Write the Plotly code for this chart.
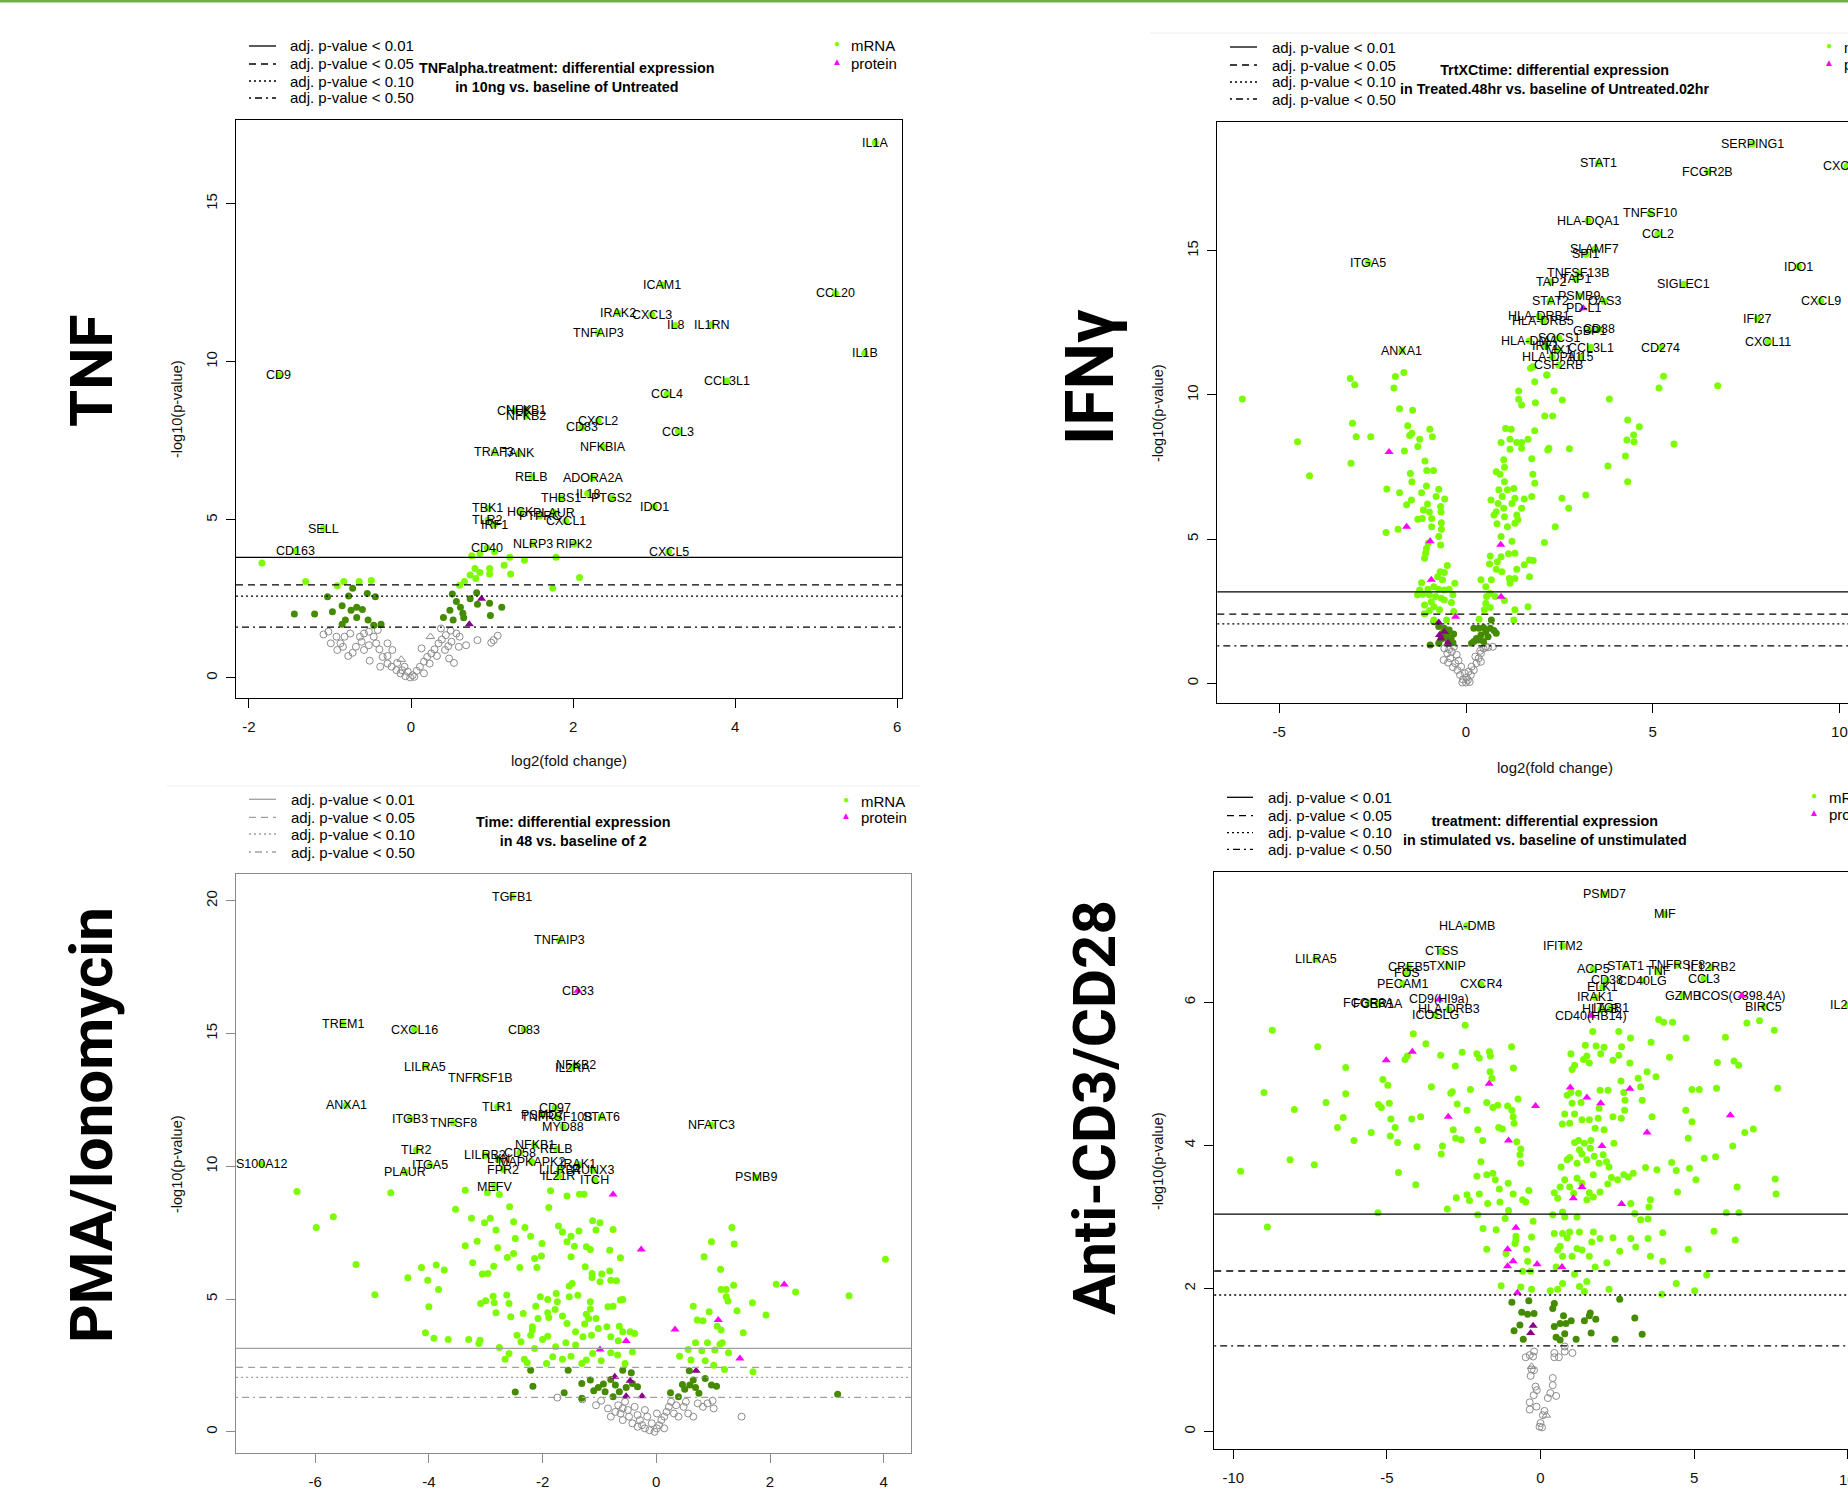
import plotly.graph_objects as go

W, H = 1848, 1507
FONT = "Liberation Sans, Arial, sans-serif"
SIG, MID, NS = "#7CFC00", "#458B00", "#8C8C8C"
PSIG, PMID = "#FF00FF", "#8B008B"

legend_labels = ["adj. p-value < 0.01", "adj. p-value < 0.05", "adj. p-value < 0.10", "adj. p-value < 0.50"]
row_labels = ["TNF", "IFNγ", "PMA/Ionomycin", "Anti-CD3/CD28"]

# ======================= TNF =======================
tnf_title = "TNFalpha.treatment: differential expression<br>in 10ng vs. baseline of Untreated"
tnf_xticks = [-2, 0, 2, 4, 6]
tnf_yticks = [0, 5, 10, 15]
tnf_thresholds = [3.81, 2.94, 2.585, 1.60]
tnf_labeled = [("IL1A", 5.73, 16.93), ("ICAM1", 3.10, 12.43), ("CCL20", 5.24, 12.16), ("IRAK2", 2.55, 11.55),
               ("CXCL3", 2.97, 11.49), ("IL8", 3.26, 11.15), ("IL1RN", 3.71, 11.17), ("TNFAIP3", 2.31, 10.92),
               ("IL1B", 5.60, 10.27), ("CD9", -1.63, 9.57), ("CCL3L1", 3.90, 9.39), ("CCL4", 3.16, 8.97),
               ("CHUK", 1.28, 8.45), ("NFKB1", 1.42, 8.47), ("NFKB2", 1.42, 8.28), ("CXCL2", 2.31, 8.13),
               ("CD83", 2.11, 7.92), ("CCL3", 3.30, 7.79), ("NFKBIA", 2.37, 7.31), ("TRAF3", 1.03, 7.13),
               ("TANK", 1.33, 7.10), ("RELB", 1.49, 6.36), ("ADORA2A", 2.24, 6.33), ("IL18", 2.18, 5.83),
               ("THBS1", 1.85, 5.68), ("PTGS2", 2.48, 5.68), ("IDO1", 3.00, 5.41), ("TBK1", 0.95, 5.36),
               ("HCK", 1.35, 5.25), ("PLAUR", 1.76, 5.23), ("PTPRC", 1.59, 5.12), ("CXCL1", 1.91, 4.95),
               ("TLR2", 0.95, 4.99), ("IRF1", 1.03, 4.85), ("SELL", -1.08, 4.72), ("NLRP3", 1.50, 4.23),
               ("RIPK2", 2.01, 4.23), ("CD40", 0.94, 4.11), ("CD163", -1.43, 4.01), ("CXCL5", 3.18, 3.99)]
tnf_labeled_prot = []
tnf_sig = [(-1.84, 3.63), (-1.30, 3.05), (-0.83, 3.05), (-0.64, 3.05), (-0.49, 3.08), (-0.91, 2.91), (0.75, 3.86),
           (0.85, 3.93), (1.03, 3.99), (1.22, 3.81), (1.40, 3.72), (1.79, 3.81), (0.73, 3.25), (0.79, 3.46),
           (0.85, 3.33), (0.80, 3.14), (0.97, 3.46), (0.97, 3.28), (1.15, 3.56), (1.23, 3.28), (0.66, 3.05),
           (0.60, 2.93), (2.08, 3.17), (1.75, 2.83)]
tnf_mid = [(-1.03, 2.56), (-1.44, 2.02), (-1.19, 2.02), (-0.97, 2.09), (-0.85, 2.28), (-0.77, 2.59), (-0.72, 2.83),
           (-0.74, 2.14), (-0.67, 2.23), (-0.81, 1.83), (-0.67, 1.91), (-0.60, 2.16), (-0.54, 2.67), (-0.44, 2.56),
           (-0.53, 1.83), (-0.37, 1.69), (-0.85, 1.69), (-0.46, 1.66), (0.51, 2.65), (0.48, 2.14), (0.40, 1.91),
           (0.52, 1.83), (0.61, 2.23), (0.64, 2.04), (0.65, 1.90), (0.56, 2.41), (0.82, 2.33), (0.97, 2.36),
           (1.12, 2.23), (0.98, 1.97), (0.73, 2.50), (0.81, 2.69)]
tnf_ns = [(-1.08, 1.37), (-1.02, 1.46), (-0.92, 1.30), (-0.99, 1.09), (-0.87, 1.09), (-0.84, 0.98), (-0.91, 0.88),
          (-0.775, 0.69), (-0.72, 0.79), (-0.68, 0.98), (-0.63, 1.30), (-0.58, 1.40), (-0.52, 1.46), (-0.46, 1.30),
          (-0.43, 1.09), (-0.39, 0.90), (-0.35, 0.66), (-0.29, 0.45), (-0.24, 0.35), (-0.18, 0.24), (-0.13, 0.14),
          (-0.07, 0.05), (-0.01, 0.01), (0.02, 0.08), (0.07, 0.22), (0.11, 0.35), (0.16, 0.51), (0.20, 0.66),
          (0.25, 0.77), (0.29, 0.90), (0.34, 1.09), (0.38, 1.21), (0.43, 1.35), (0.49, 1.49), (0.56, 1.40),
          (0.59, 0.98), (0.53, 0.47), (0.47, 0.61), (0.37, 1.56), (0.46, 1.00), (0.68, 1.03), (0.82, 1.19),
          (0.99, 1.11), (1.07, 1.33), (1.02, 1.19), (0.13, 0.93), (-0.51, 0.54), (-0.38, 0.35), (-0.29, 0.69),
          (-0.23, 0.88), (-0.58, 0.88), (-0.52, 1.03), (-0.08, 0.35), (-0.11, 0.24), (-0.17, 0.47), (-0.04, 0.19),
          (0.04, 0.03), (0.16, 0.14), (0.23, 0.45), (0.32, 0.69), (0.42, 0.88), (0.50, 1.14), (0.60, 1.30),
          (-0.41, 1.51), (-0.29, 1.09), (-0.61, 1.14), (-0.75, 1.40), (-0.82, 1.30)]
tnf_prot_sig = []
tnf_prot_mid = [(0.87, 2.50), (0.72, 1.69)]
tnf_prot_ns = [(0.24, 1.30), (-0.12, 0.58)]

# ======================= IFN-gamma =======================
ifn_title = "TrtXCtime: differential expression<br>in Treated.48hr vs. baseline of Untreated.02hr"
ifn_xticks = [-5, 0, 5, 10]
ifn_yticks = [0, 5, 10, 15]
ifn_thresholds = [3.17, 2.40, 2.06, 1.30]
ifn_labeled = [("SERPING1", 7.66, 18.70), ("STAT1", 3.55, 18.03), ("FCGR2B", 6.48, 17.74), ("CXCL10", 10.2, 17.93),
               ("TNFSF10", 4.93, 16.29), ("HLA-DQA1", 3.27, 16.04), ("CCL2", 5.14, 15.58), ("SLAMF7", 3.45, 15.05),
               ("SPI1", 3.21, 14.88), ("ITGA5", -2.62, 14.59), ("IDO1", 8.90, 14.45), ("TNFSF13B", 3.01, 14.21),
               ("TAP1", 2.94, 14.01), ("TAP2", 2.27, 13.92), ("SIGLEC1", 5.83, 13.84), ("PSMB9", 3.03, 13.43),
               ("STAT2", 2.25, 13.25), ("OAS3", 3.70, 13.25), ("CXCL9", 9.50, 13.25), ("IFI27", 7.81, 12.63),
               ("HLA-DRB1", 1.96, 12.73), ("HLA-DRB5", 2.07, 12.56), ("GBP1", 3.30, 12.23), ("CD38", 3.55, 12.28),
               ("SOCS1", 2.49, 11.96), ("HLA-DMA", 1.69, 11.87), ("CXCL11", 8.10, 11.84), ("IRF1", 2.14, 11.69),
               ("CCL3L1", 3.34, 11.64), ("CD274", 5.22, 11.64), ("MX1", 2.49, 11.55), ("ANXA1", -1.72, 11.53),
               ("HLA-DPA1", 2.31, 11.32), ("IL15", 3.07, 11.30), ("CSF2RB", 2.48, 11.03)]
ifn_labeled_prot = [("PD-L1", 3.14, 13.00)]
ifn_sig = [(-5.99, 9.86), (-3.10, 10.57), (-2.98, 10.35), (-1.89, 10.64), (-1.665, 10.78), (-1.93, 10.24),
           (-1.78, 9.52), (-1.43, 9.47), (1.41, 10.14), (1.41, 9.85), (1.49, 9.65), (1.86, 9.73), (1.84, 10.46),
           (2.17, 10.69), (2.36, 10.14), (2.58, 9.82), (1.73, 10.92), (1.79, 10.98), (2.11, 9.27), (2.32, 9.27),
           (3.84, 9.86), (4.33, 9.13), (5.17, 10.24), (5.29, 10.65), (6.74, 10.32), (2.16, 10.69),
           (-4.51, 8.38), (-4.19, 7.20), (-3.04, 9.02), (-2.94, 8.55), (-3.08, 7.63), (-2.55, 8.55), (-2.12, 6.74),
           (-2.14, 5.23), (-1.82, 5.34), (-1.65, 8.06), (-1.56, 8.93), (-1.45, 8.67), (-1.51, 8.59), (-1.24, 8.46),
           (-1.29, 8.21), (-0.97, 8.81), (-0.90, 8.55), (-1.10, 7.71), (-1.05, 7.38), (-0.87, 7.38), (-1.49, 7.28),
           (-1.45, 6.99), (-1.78, 6.61), (-1.46, 6.36), (-1.59, 6.19), (-1.19, 6.61), (-1.06, 6.84), (-0.73, 6.73),
           (-0.80, 6.48), (-0.57, 6.39), (-1.03, 6.22), (-0.98, 5.94), (-0.68, 6.13), (-0.67, 5.94), (-1.14, 6.01),
           (-1.29, 5.69), (-1.17, 5.72), (-0.92, 5.72), (-0.66, 5.57), (-0.66, 5.34), (-0.92, 5.43), (-0.73, 5.09),
           (-0.68, 4.80), (-1.06, 4.68), (-1.08, 4.51), (-1.01, 4.86), (-1.11, 4.34), (-0.50, 4.09), (-0.69, 3.87),
           (-0.58, 3.84), (-0.76, 3.70), (-0.63, 3.59), (-0.30, 3.47), (-1.19, 3.49), (-1.24, 3.24), (-1.30, 3.07),
           (-1.02, 3.26), (-0.86, 3.35), (-0.73, 3.26), (-0.58, 3.24), (-0.45, 3.26), (-0.35, 3.07), (-1.16, 3.09),
           (-0.98, 3.07), (-0.81, 3.01), (-0.66, 2.95), (-0.93, 2.83), (-0.58, 2.89), (-0.39, 2.80), (-1.11, 2.72),
           (-0.86, 2.66), (-0.98, 2.52), (-0.71, 2.55), (-0.33, 2.49), (-1.11, 2.41), (-0.86, 2.20), (-0.52, 2.20),
           (1.06, 8.84), (1.21, 8.81), (1.18, 8.46), (1.36, 8.35), (1.49, 8.35), (0.94, 8.35), (1.18, 8.12),
           (1.49, 8.15), (1.66, 8.46), (1.84, 8.76), (2.22, 8.15), (2.19, 8.09), (2.77, 8.13), (1.01, 7.75),
           (1.03, 7.49), (1.76, 7.79), (0.81, 7.34), (0.91, 7.25), (1.03, 6.99), (1.28, 6.76), (1.11, 6.71),
           (0.88, 6.71), (0.97, 6.48), (0.67, 6.36), (0.86, 6.24), (1.23, 6.24), (1.31, 6.42), (1.56, 6.39),
           (1.49, 6.07), (1.79, 7.25), (1.84, 6.94), (1.76, 6.48), (1.01, 6.07), (0.81, 5.95), (0.75, 5.84),
           (1.03, 5.78), (1.36, 5.84), (1.39, 5.67), (1.31, 5.55), (0.83, 5.53), (1.11, 5.43), (0.94, 5.09),
           (1.23, 4.93), (1.14, 4.49), (1.31, 4.51), (0.94, 4.39), (0.84, 4.22), (0.65, 4.42), (0.63, 4.14),
           (0.81, 3.96), (0.96, 3.87), (1.16, 3.64), (1.36, 3.96), (1.56, 4.11), (1.70, 4.28), (1.80, 4.26),
           (1.70, 3.70), (1.31, 3.64), (1.18, 3.47), (0.68, 3.59), (0.40, 3.59), (0.53, 3.35), (0.65, 3.12),
           (0.78, 3.01), (0.55, 3.01), (1.03, 2.87), (0.53, 2.78), (0.65, 2.63), (0.49, 2.55), (1.31, 2.55),
           (1.66, 2.66), (1.28, 2.20), (0.35, 2.22),
           (4.64, 8.90), (4.49, 8.61), (4.50, 8.38), (4.31, 8.44), (5.57, 8.30), (4.27, 7.88), (3.80, 7.54),
           (4.33, 6.99), (3.21, 6.53), (2.57, 6.42), (2.75, 6.07), (2.39, 5.43), (2.10, 4.88)]
ifn_mid = [(-0.86, 2.14), (-0.73, 1.97), (-0.58, 1.91), (-0.45, 1.85), (-0.63, 1.74), (-0.53, 1.60), (-0.40, 1.56),
           (-0.33, 1.71), (-0.67, 1.53), (-0.48, 1.45), (-0.96, 1.33), (-0.35, 1.41), (-0.50, 1.74), (-0.73, 1.39),
           (0.21, 1.91), (0.34, 1.91), (0.47, 1.94), (0.65, 1.91), (0.75, 1.83), (0.81, 1.74), (0.53, 1.79),
           (0.40, 1.68), (0.28, 1.56), (0.21, 1.45), (0.59, 1.62), (0.47, 1.45), (0.68, 2.20), (0.34, 1.50),
           (0.15, 1.39)]
ifn_ns = [(-0.58, 1.21), (-0.50, 1.04), (-0.42, 0.87), (-0.60, 0.81), (-0.29, 0.70), (-0.23, 0.46), (-0.16, 0.29),
          (-0.08, 0.14), (0.00, 0.03), (0.05, 0.12), (0.13, 0.29), (0.21, 0.46), (0.28, 0.70), (0.34, 0.87),
          (0.40, 1.04), (0.47, 1.21), (0.72, 1.27), (0.53, 1.27), (-0.38, 1.10), (-0.25, 0.99), (-0.13, 0.58),
          (0.15, 0.58), (-0.03, 0.35), (0.07, 0.41), (-0.35, 0.56), (-0.48, 0.72), (0.40, 0.75), (0.25, 0.93),
          (0.38, 1.13), (0.59, 1.25), (-0.45, 1.18), (-0.32, 1.27), (-0.20, 0.79), (0.02, 0.20), (-0.10, 0.03),
          (0.10, 0.05)]
ifn_prot_sig = [(-2.06, 8.02), (-1.59, 5.43), (-0.96, 4.93), (-0.93, 3.59), (0.93, 4.81), (0.94, 3.00), (-0.28, 2.31)]
ifn_prot_mid = [(-0.73, 2.11), (-0.58, 1.79), (-0.71, 1.68), (-0.67, 1.56), (-0.48, 1.41)]
ifn_prot_ns = []

# ======================= PMA / Ionomycin =======================
pma_title = "Time: differential expression<br>in 48 vs. baseline of 2"
pma_xticks = [-6, -4, -2, 0, 2, 4]
pma_yticks = [0, 5, 10, 15, 20]
pma_thresholds = [3.14, 2.425, 2.05, 1.295]
pma_labeled = [("TGFB1", -2.53, 20.15), ("TNFAIP3", -1.70, 18.52), ("TREM1", -5.51, 15.38), ("CXCL16", -4.25, 15.15),
               ("CD83", -2.32, 15.15), ("LILRA5", -4.06, 13.75), ("NFKB2", -1.42, 13.81), ("IL2RA", -1.48, 13.72),
               ("TNFRSF1B", -3.09, 13.34), ("ANXA1", -5.45, 12.30), ("TLR1", -2.79, 12.24), ("CD97", -1.78, 12.21),
               ("ITGB3", -4.33, 11.79), ("TNFSF8", -3.57, 11.64), ("PSMD7", -2.00, 11.93), ("TNFRSF10B", -1.74, 11.86),
               ("STAT6", -0.97, 11.86), ("MYD88", -1.64, 11.49), ("NFATC3", 0.97, 11.55), ("NFKB1", -2.14, 10.80),
               ("RELB", -1.75, 10.64), ("CD58", -2.40, 10.51), ("LILRB2", -3.01, 10.42), ("LYN", -2.78, 10.26),
               ("MAPKAPK2", -2.19, 10.17), ("TLR2", -4.22, 10.61), ("ITGA5", -3.98, 10.04), ("PLAUR", -4.42, 9.79),
               ("FPR2", -2.69, 9.88), ("IRAK1", -1.37, 10.07), ("RUNX3", -1.11, 9.85), ("LILRB4", -1.70, 9.88),
               ("IL21R", -1.72, 9.63), ("ITCH", -1.08, 9.48), ("MEFV", -2.84, 9.23), ("PSMB9", 1.76, 9.58),
               ("S100A12", -6.94, 10.08)]
pma_labeled_prot = [("CD33", -1.38, 16.61)]
pma_sig = [(-6.32, 9.05), (-5.68, 8.10), (-5.98, 7.70), (-4.67, 9.00), (-3.36, 9.10), (-2.97, 9.00), (-2.76, 8.94),
           (-2.85, 9.29), (-3.53, 8.38), (-3.25, 8.04), (-3.02, 7.87), (-2.92, 8.04), (-2.82, 7.60), (-2.58, 8.48),
           (-2.51, 7.91), (-2.31, 7.70), (-2.48, 7.28), (-2.21, 7.37), (-2.01, 7.09), (-3.15, 7.18), (-3.36, 7.01),
           (-2.79, 6.93), (-2.62, 6.57), (-2.51, 6.72), (-2.14, 6.53), (-2.02, 6.62), (-3.23, 6.37), (-2.86, 6.24),
           (-3.06, 5.94), (-2.96, 5.96), (-2.40, 6.19), (-2.10, 6.19), (-5.28, 6.30), (-4.13, 6.19), (-3.87, 6.28),
           (-3.73, 6.09), (-4.37, 5.80), (-4.02, 5.71), (-3.83, 5.36), (-4.95, 5.16), (-4.00, 4.71), (-4.06, 3.73),
           (-3.91, 3.52), (-3.66, 3.48), (-3.30, 3.48), (-3.10, 3.45), (-3.12, 3.33), (-2.76, 3.18), (-2.59, 2.95),
           (-2.66, 2.73), (-2.32, 2.73), (-2.27, 2.60), (-2.45, 3.64), (-2.38, 3.39), (-2.18, 3.83), (-2.21, 3.64),
           (-2.00, 3.48), (-1.91, 3.60), (-2.14, 3.14), (-1.93, 2.57), (-1.82, 2.83), (-1.65, 2.73), (-1.50, 2.85),
           (-1.31, 2.57), (-1.23, 2.70), (-1.12, 2.95), (-0.97, 2.68), (-0.80, 2.98), (-0.68, 2.89), (-0.55, 2.57),
           (-0.42, 3.01), (-0.38, 3.70), (-0.46, 3.77), (-0.59, 3.77), (-0.67, 3.43), (-0.80, 3.58), (-0.65, 3.98),
           (-0.87, 3.96), (-1.02, 3.89), (-1.14, 3.64), (-1.29, 3.58), (-1.42, 3.77), (-1.59, 3.35), (-1.77, 3.20),
           (-1.42, 3.27), (-1.57, 4.08), (-1.65, 4.36), (-1.78, 4.61), (-1.91, 4.48), (-1.89, 4.31), (-2.08, 4.27),
           (-2.18, 3.96), (-2.34, 4.46), (-2.56, 4.33), (-2.59, 4.83), (-2.63, 5.15), (-2.82, 4.48), (-2.85, 4.86),
           (-3.09, 4.83), (-3.00, 4.94), (-2.87, 5.11), (-2.12, 4.73), (-2.04, 5.09), (-1.91, 4.98), (-1.74, 4.90),
           (-1.76, 5.21), (-1.53, 5.09), (-1.38, 5.14), (-1.16, 4.90), (-1.16, 4.63), (-1.23, 4.43), (-1.19, 4.27),
           (-1.26, 4.06), (-1.06, 4.27), (-0.85, 4.71), (-0.76, 4.73), (-0.63, 4.96), (-0.59, 4.98), (-0.99, 5.65),
           (-0.82, 6.06), (-0.80, 5.71), (-0.70, 5.69), (-0.96, 5.94), (-1.13, 5.96), (-1.13, 5.81), (-1.25, 6.22),
           (-1.48, 5.59), (-1.53, 5.49), (-1.50, 6.59), (-1.36, 7.56), (-1.50, 7.37), (-1.44, 6.99), (-1.23, 6.97),
           (-1.16, 6.87), (-1.72, 7.75), (-1.65, 7.53), (-1.57, 7.16), (-1.06, 7.60), (-0.99, 7.87), (-1.12, 7.95),
           (-0.76, 7.62), (-0.82, 6.84), (-0.63, 6.56), (-1.89, 8.45), (-1.86, 9.08), (-1.57, 8.88), (-1.35, 8.95),
           (-1.27, 8.95), (0.65, 4.73), (0.72, 4.21), (0.82, 4.18), (0.93, 4.52), (1.07, 3.98), (1.14, 3.83),
           (1.16, 3.35), (1.12, 3.30), (1.03, 3.08), (0.90, 3.35), (0.80, 3.05), (0.69, 3.35), (0.56, 3.10),
           (0.41, 2.85), (0.61, 2.70), (0.86, 2.68), (1.01, 2.51), (1.27, 2.98), (1.20, 2.35), (1.70, 2.26),
           (1.23, 5.09), (1.14, 5.36), (1.26, 4.93), (1.42, 4.56), (1.36, 5.52), (1.23, 5.36), (1.69, 4.86),
           (1.93, 4.40), (1.53, 3.73), (1.13, 6.12), (0.84, 6.59), (0.97, 7.16), (1.33, 7.70), (1.37, 7.07),
           (2.11, 5.56), (2.45, 5.27), (3.39, 5.12), (4.03, 6.50)]
pma_mid = [(-2.48, 1.50), (-2.17, 1.72), (-2.21, 2.32), (-1.62, 1.47), (-1.55, 2.32), (-1.31, 1.82), (-1.16, 1.95),
           (-1.02, 1.67), (-1.10, 1.55), (-0.93, 1.80), (-0.90, 1.51), (-0.80, 1.97), (-0.72, 1.76), (-0.65, 1.51),
           (-0.76, 1.32), (-0.53, 1.67), (-0.59, 2.32), (-0.44, 2.22), (-0.42, 1.82), (-0.33, 1.70), (-1.31, 1.26),
           (0.25, 1.47), (0.46, 1.78), (0.50, 1.60), (0.58, 2.30), (0.65, 1.95), (0.69, 1.67), (0.75, 1.45),
           (0.86, 2.01), (0.97, 1.76), (1.06, 1.72), (0.39, 1.32), (3.19, 1.41), (0.59, 1.76)]
pma_ns = [(-1.74, 1.29), (-1.30, 1.22), (-1.06, 1.00), (-0.97, 1.17), (-0.85, 0.88), (-0.80, 0.57), (-0.67, 1.00),
          (-0.63, 0.69), (-0.59, 0.44), (-0.55, 1.13), (-0.50, 0.82), (-0.48, 0.57), (-0.42, 0.32), (-0.38, 0.94),
          (-0.33, 0.63), (-0.29, 0.44), (-0.25, 0.25), (-0.20, 0.13), (-0.16, 0.57), (-0.12, 0.06), (-0.08, 0.32),
          (-0.03, 0.00), (0.01, 0.13), (0.05, 0.25), (0.09, 0.44), (0.14, 0.57), (0.18, 0.75), (0.22, 0.94),
          (0.26, 1.13), (0.31, 0.69), (0.35, 1.00), (0.39, 0.57), (0.48, 0.94), (0.52, 1.13), (0.56, 0.69),
          (0.65, 0.57), (0.73, 1.07), (0.82, 0.94), (0.90, 1.07), (0.99, 1.17), (1.01, 0.88), (1.50, 0.57),
          (-0.20, 0.82), (0.01, 0.69), (-0.33, 0.19), (-0.72, 0.75), (-0.59, 0.88), (0.14, 0.13)]
pma_prot_sig = [(-0.76, 8.94), (-0.265, 6.87), (0.33, 3.85), (-0.53, 3.42), (-0.99, 3.10), (1.09, 4.21), (2.25, 5.55),
                (1.47, 2.76)]
pma_prot_mid = [(0.70, 2.30), (-0.73, 2.07), (-0.46, 1.92), (-0.25, 1.34), (-0.53, 1.34)]
pma_prot_ns = []

# ======================= Anti-CD3/CD28 =======================
cd3_title = "treatment: differential expression<br>in stimulated vs. baseline of unstimulated"
cd3_xticks = [-10, -5, 0, 5, 10]
cd3_yticks = [0, 2, 4, 6]
cd3_thresholds = [3.04, 2.245, 1.91, 1.20]
cd3_labeled = [("PSMD7", 2.07, 7.51), ("MIF", 4.04, 7.23), ("HLA-DMB", -2.40, 7.07), ("IFITM2", 0.73, 6.79),
               ("LILRA5", -7.31, 6.60), ("CTSS", -3.22, 6.71), ("CREB5", -4.29, 6.49), ("FOS", -4.36, 6.41),
               ("TXNIP", -3.02, 6.51), ("PECAM1", -4.48, 6.26), ("CXCR4", -1.94, 6.25), ("TNFRSF8", 4.45, 6.52),
               ("IL12RB2", 5.56, 6.49), ("CCL3", 5.32, 6.33), ("ACP5", 1.72, 6.46), ("STAT1", 2.77, 6.51),
               ("TNF", 3.83, 6.43), ("CD38", 2.15, 6.31), ("CD40LG", 3.33, 6.30), ("ELK1", 2.03, 6.21),
               ("IRAK1", 1.78, 6.07), ("HLA-B", 1.97, 5.90), ("ITGB1", 2.28, 5.92), ("GZMB", 4.63, 6.09),
               ("BIRC5", 7.27, 5.94), ("IL2RA", 10.0, 5.96), ("FCGR3A", -5.60, 5.99), ("FCER1A", -5.29, 5.98),
               ("HLA-DRB3", -2.99, 5.90), ("ICOSLG", -3.43, 5.82)]
cd3_labeled_prot = [("CD9(HI9a)", -3.30, 6.04), ("ICOS(C398.4A)", 6.56, 6.09), ("CD40(HB14)", 1.66, 5.81)]
cd3_sig = [(-8.73, 5.61), (-7.25, 5.38), (-9.00, 4.74), (-8.01, 4.50), (-6.98, 4.60), (-6.61, 4.25), (-6.34, 5.09),
           (-6.34, 4.72), (-6.42, 4.39), (-6.07, 4.07), (-5.51, 4.18), (-5.27, 4.57), (-5.18, 4.53), (-4.92, 4.59),
           (-4.87, 4.37), (-4.89, 4.13), (-4.73, 4.25), (-5.13, 4.92), (-4.97, 4.84), (-4.65, 4.04), (-4.41, 5.20),
           (-4.33, 5.25), (-4.14, 5.56), (-3.73, 5.42), (-4.02, 3.98), (-3.90, 4.40), (-4.19, 4.37), (-3.55, 4.82),
           (-3.25, 5.26), (-3.19, 3.99), (-2.87, 4.75), (-2.92, 4.73), (-2.84, 4.22), (-2.77, 5.11), (-2.71, 4.58),
           (-2.76, 4.10), (-2.55, 5.30), (-2.58, 4.08), (-2.39, 4.49), (-2.45, 5.68), (-2.28, 4.78), (-2.07, 5.28),
           (-1.99, 5.22), (-2.04, 4.22), (-1.88, 4.07), (-1.75, 4.60), (-1.66, 5.31), (-1.63, 5.25), (-1.64, 5.03),
           (-1.58, 4.94), (-1.55, 4.53), (-1.39, 4.56), (-1.36, 4.25), (-1.24, 4.23), (-1.07, 4.55), (-0.94, 5.38),
           (-0.88, 5.08), (-0.93, 4.49), (-0.89, 4.40), (-0.86, 4.31), (-0.77, 4.05), (-0.73, 4.65), (-0.64, 3.95),
           (0.99, 5.28), (1.11, 5.12), (1.03, 5.06), (1.40, 5.20), (1.51, 5.25), (1.59, 5.15), (1.46, 5.40),
           (1.81, 5.39), (2.07, 5.37), (1.96, 5.28), (1.70, 5.59), (2.55, 5.59), (2.55, 5.26), (2.36, 5.19),
           (2.64, 5.38), (2.93, 5.50), (2.91, 5.15), (3.18, 4.94), (3.47, 5.03), (3.60, 5.44), (3.76, 4.96),
           (3.85, 5.76), (4.01, 5.72), (4.30, 5.72), (4.20, 5.23), (4.74, 5.50), (4.93, 4.78), (5.17, 4.78),
           (5.73, 4.80), (6.02, 5.51), (5.76, 5.16), (6.30, 5.18), (6.45, 5.12), (6.72, 5.71), (7.13, 5.74),
           (7.61, 5.61), (7.72, 4.80), (4.73, 4.49), (4.93, 4.33), (4.81, 4.10), (5.33, 3.82), (5.70, 3.84),
           (6.26, 3.99), (6.65, 4.18), (6.93, 4.23), (4.27, 3.76), (3.42, 3.69), (1.94, 4.77), (2.20, 4.77),
           (2.62, 4.90), (2.71, 4.74), (2.75, 4.63), (3.26, 4.82), (3.31, 4.63), (3.63, 4.40), (2.36, 4.40),
           (2.74, 4.49), (2.63, 4.38), (2.07, 4.22), (1.78, 4.24), (1.64, 4.07), (1.43, 4.03), (1.24, 4.07),
           (1.11, 4.04), (0.95, 3.83), (1.27, 3.94), (1.62, 3.96), (1.75, 3.85), (2.04, 3.87), (2.15, 3.77),
           (2.39, 4.03), (2.23, 3.70), (0.67, 3.70), (0.87, 3.80), (0.79, 4.44), (0.71, 4.30), (0.95, 4.31),
           (1.11, 4.44), (1.35, 4.36), (1.59, 4.36), (1.88, 4.38), (1.91, 4.52), (1.32, 4.60), (1.24, 4.73),
           (0.99, 4.74), (0.87, 4.70), (1.03, 4.59),
           (-9.76, 3.64), (-8.15, 3.80), (-7.36, 3.73), (-8.89, 2.86), (-5.29, 3.06), (-4.62, 3.62), (-4.06, 3.45),
           (-3.23, 3.88), (-3.03, 3.11), (-2.74, 3.27), (-2.39, 3.31), (-2.31, 3.23), (-2.07, 3.57), (-1.99, 3.32),
           (-1.94, 3.77), (-2.04, 3.03), (-1.87, 2.84), (-1.75, 2.55), (-1.72, 3.19), (-1.75, 3.59), (-1.55, 3.61),
           (-1.47, 3.52), (-1.34, 3.39), (-1.32, 3.21), (-1.15, 2.98), (-1.44, 2.82), (-1.12, 2.49), (-1.05, 3.47),
           (-1.04, 3.09), (-0.89, 3.32), (-0.80, 2.73), (-0.80, 2.68), (-0.83, 2.63), (-0.67, 3.87), (-0.64, 3.75),
           (-0.58, 3.24), (-0.48, 3.21), (-0.38, 3.37), (-0.45, 2.55), (-0.42, 2.38), (-0.29, 2.72), (-0.24, 2.94),
           (-0.58, 2.24), (-0.32, 2.24), (-1.28, 2.04), (-0.64, 2.02), (-0.29, 1.99),
           (0.45, 3.34), (0.56, 3.26), (0.64, 3.42), (0.79, 3.52), (1.19, 3.75), (1.35, 3.88), (1.51, 3.80),
           (1.91, 3.75), (1.72, 3.59), (1.19, 3.54), (0.95, 3.42), (1.08, 3.33), (1.35, 3.47), (1.59, 3.34),
           (1.51, 3.24), (1.72, 3.28), (1.94, 3.35), (2.19, 3.46), (2.31, 3.55), (2.51, 3.52), (2.71, 3.59),
           (2.86, 3.56), (3.02, 3.61), (2.94, 3.19), (3.07, 3.05), (3.26, 2.96), (3.50, 2.97), (3.58, 3.24),
           (3.53, 3.14), (3.79, 3.66), (4.42, 3.65), (4.46, 3.35), (4.85, 3.68), (5.06, 3.52), (6.40, 3.42),
           (7.64, 3.53), (7.67, 3.32), (6.05, 3.06), (6.46, 3.06), (5.65, 2.80), (6.34, 2.68), (4.81, 2.55),
           (5.41, 2.19), (4.42, 2.07), (5.02, 1.97), (3.95, 1.92), (3.98, 2.78), (3.50, 2.70), (3.58, 2.45),
           (3.98, 2.38), (3.10, 2.58), (2.94, 2.70), (2.58, 2.52), (2.36, 2.71), (2.16, 2.36), (2.23, 1.99),
           (1.94, 2.70), (1.72, 2.79), (1.67, 2.65), (1.59, 2.45), (1.78, 2.30), (1.51, 2.10), (1.27, 2.03),
           (1.43, 1.96), (1.11, 2.20), (1.35, 2.54), (1.19, 2.56), (1.03, 2.45), (0.87, 2.71), (0.95, 2.79),
           (1.27, 2.79), (0.72, 2.77), (0.64, 2.59), (0.56, 2.54), (0.72, 2.45), (0.51, 2.30), (0.45, 2.77),
           (0.40, 3.03), (0.79, 3.00), (1.19, 3.00), (0.72, 3.07), (0.32, 1.97), (0.72, 2.07), (0.56, 1.99)]
cd3_mid = [(-0.93, 1.81), (-0.38, 1.83), (-0.61, 1.67), (-0.42, 1.64), (-0.21, 1.65), (-0.86, 1.41), (-0.67, 1.49),
           (-0.56, 1.29), (0.45, 1.79), (0.40, 1.72), (0.75, 1.62), (0.45, 1.47), (0.64, 1.51), (0.83, 1.51),
           (1.00, 1.55), (0.79, 1.37), (0.51, 1.32), (1.16, 1.29), (1.43, 1.55), (1.62, 1.66), (1.59, 1.62),
           (1.80, 1.57), (1.65, 1.38), (2.58, 1.85), (3.07, 1.59), (3.31, 1.36), (2.43, 1.29), (0.64, 1.28)]
cd3_ns = [(-0.48, 1.04), (-0.35, 1.07), (-0.24, 1.05), (-0.21, 1.12), (-0.29, 0.87), (-0.32, 0.78), (-0.21, 0.86),
          (-0.16, 0.63), (-0.12, 0.58), (-0.22, 0.51), (-0.35, 0.41), (-0.35, 0.31), (-0.13, 0.35), (0.00, 0.12),
          (0.05, 0.06), (-0.03, 0.07), (0.08, 0.23), (0.13, 0.29), (0.24, 0.47), (0.32, 0.54), (0.40, 0.65),
          (0.40, 0.75), (0.51, 0.50), (0.45, 1.04), (0.45, 1.10), (0.60, 1.04), (0.79, 1.19), (0.79, 1.12),
          (1.04, 1.10)]
cd3_prot_sig = [(-5.02, 5.19), (-4.17, 5.31), (-1.67, 4.86), (-3.00, 4.40), (-1.04, 4.07), (-0.16, 4.55),
                (0.97, 4.81), (1.51, 4.67), (1.96, 4.59), (2.91, 4.79), (3.47, 4.18), (2.00, 3.99), (6.18, 4.42),
                (1.35, 3.42), (1.07, 3.26), (2.64, 3.18), (-0.80, 2.85), (-1.07, 2.55), (-0.89, 2.38), (-1.07, 2.31),
                (-0.11, 2.34), (0.70, 2.30), (-0.75, 1.94)]
cd3_prot_mid = [(-0.24, 1.48), (-0.32, 1.38)]
cd3_prot_ns = [(-0.29, 0.91), (0.19, 0.23)]

# ======================= layout (pixel geometry) =======================
def X(px):
    return px / W

def Y(py):
    return 1 - py / H

panels = [
    dict(n=1, title=tnf_title, xt=tnf_xticks, yt=tnf_yticks, thr=tnf_thresholds, lab=tnf_labeled,
         labp=tnf_labeled_prot, sig=tnf_sig, mid=tnf_mid, ns=tnf_ns, psig=tnf_prot_sig, pmid=tnf_prot_mid,
         pns=tnf_prot_ns, box=(236, 120, 902, 698), xr=[-2.16, 6.06], yr=[-0.64, 17.65], full=True,
         lc="#000000", tc="#000000", leg_rows=[46, 64, 81, 98], leg_line=(249, 276), leg_text=287.5,
         title_c=(567, 78), mk=(837, 44, 62), mk_text=849, xlab=(569, 760), ylab=(177, 409)),
    dict(n=2, title=ifn_title, xt=ifn_xticks, yt=ifn_yticks, thr=ifn_thresholds, lab=ifn_labeled,
         labp=ifn_labeled_prot, sig=ifn_sig, mid=ifn_mid, ns=ifn_ns, psig=ifn_prot_sig, pmid=ifn_prot_mid,
         pns=ifn_prot_ns, box=(1217.3, 122.3, W, 703.3), xr=[-6.66, 10.23], yr=[-0.69, 19.45], full=False,
         lc="#000000", tc="#000000", leg_rows=[47, 65, 82, 99], leg_line=(1230, 1257), leg_text=1270,
         title_c=(1555, 79.5), mk=(1828.7, 45.7, 62.3), mk_text=1842, xlab=(1555, 767), ylab=(1158, 413)),
    dict(n=3, title=pma_title, xt=pma_xticks, yt=pma_yticks, thr=pma_thresholds, lab=pma_labeled,
         labp=pma_labeled_prot, sig=pma_sig, mid=pma_mid, ns=pma_ns, psig=pma_prot_sig, pmid=pma_prot_mid,
         pns=pma_prot_ns, box=(236.1, 874.3, 911.3, 1453.3), xr=[-7.39, 4.485], yr=[-0.81, 21.0], full=True,
         lc="#8a8a8a", tc="#a0a0a0", leg_rows=[799.3, 817.3, 834, 852], leg_line=(249, 276), leg_text=288.5,
         title_c=(573, 831.5), mk=(846, 799, 815.7), mk_text=859, xlab=(574, 1516), ylab=(177, 1164)),
    dict(n=4, title=cd3_title, xt=cd3_xticks, yt=cd3_yticks, thr=cd3_thresholds, lab=cd3_labeled,
         labp=cd3_labeled_prot, sig=cd3_sig, mid=cd3_mid, ns=cd3_ns, psig=cd3_prot_sig, pmid=cd3_prot_mid,
         pns=cd3_prot_ns, box=(1214.2, 872, W, 1449.3), xr=[-10.62, 10.01], yr=[-0.246, 7.82], full=False,
         lc="#000000", tc="#000000", leg_rows=[797.3, 815.7, 832.7, 849.3], leg_line=(1227, 1253), leg_text=1266,
         title_c=(1545, 830), mk=(1813.7, 795.7, 812.3), mk_text=1827, xlab=(1545, 1513), ylab=(1158, 1161)),
]

DASHES = ["solid", "7px,5px", "2px,3px", "2px,4px,7px,4px"]

fig = go.Figure()
shapes = []
annotations = []
layout_axes = {}


def xy_lists(pairs):
    return [q[0] for q in pairs], [q[1] for q in pairs]


for p in panels:
    n = p["n"]
    xa = "x" if n == 1 else f"x{n}"
    ya = "y" if n == 1 else f"y{n}"
    xkey = "xaxis" if n == 1 else f"xaxis{n}"
    ykey = "yaxis" if n == 1 else f"yaxis{n}"
    x0, y0, x1, y1 = p["box"]
    common = dict(showgrid=False, zeroline=False, showline=True, linecolor=p["lc"], linewidth=1.2,
                  ticks="outside", ticklen=9, tickwidth=1, tickcolor=p["lc"],
                  tickfont=dict(family=FONT, size=15, color="#111111"))
    layout_axes[xkey] = dict(domain=[X(x0), min(1.0, X(x1))], range=p["xr"], anchor=ya,
                             tickvals=p["xt"], ticktext=[str(v) for v in p["xt"]], mirror=True,
                             ticklabelstandoff=6, **common)
    layout_axes[ykey] = dict(domain=[Y(y1), Y(y0)], range=p["yr"], anchor=xa,
                             tickvals=p["yt"], ticktext=[str(v) for v in p["yt"]], tickangle=-90,
                             mirror=p["full"], ticklabelstandoff=3, **common)

    def add(pairs, symbol, color, size, open_=False):
        if not pairs:
            return
        xs, ys = xy_lists(pairs)
        if open_:
            marker = dict(symbol=symbol, size=size, color=color, line=dict(color=color, width=1))
        else:
            marker = dict(symbol=symbol, size=size, color=color, line=dict(width=0))
        fig.add_trace(go.Scatter(x=xs, y=ys, xaxis=xa, yaxis=ya, mode="markers", marker=marker,
                                 hoverinfo="skip", showlegend=False, cliponaxis=True))

    add(p["ns"], "circle-open", NS, 7, open_=True)
    add(p["pns"], "triangle-up-open", NS, 7.5, open_=True)
    add(p["mid"], "circle", MID, 7)
    add(p["sig"], "circle", SIG, 7)
    add([(g[1], g[2]) for g in p["lab"]], "circle", SIG, 7)
    add(p["pmid"], "triangle-up", PMID, 8)
    add(p["psig"], "triangle-up", PSIG, 8)
    add([(g[1], g[2]) for g in p["labp"]], "triangle-up", PSIG, 8)

    thr_color = p["tc"] if n == 3 else "#000000"
    for val, dash in zip(p["thr"], DASHES):
        shapes.append(dict(type="line", xref=f"{xa} domain", yref=ya, x0=0, x1=1, y0=val, y1=val,
                           line=dict(color=thr_color, width=1.3, dash=dash)))
    for name, gx, gy in p["lab"] + p["labp"]:
        annotations.append(dict(x=gx, y=gy, xref=xa, yref=ya, text=name, showarrow=False,
                                xanchor="center", yanchor="middle",
                                font=dict(family=FONT, size=12.5, color="#000000")))
    for row_y, dash, txt in zip(p["leg_rows"], DASHES, legend_labels):
        shapes.append(dict(type="line", xref="paper", yref="paper", x0=X(p["leg_line"][0]), x1=X(p["leg_line"][1]),
                           y0=Y(row_y), y1=Y(row_y), line=dict(color=thr_color, width=1.3, dash=dash)))
        annotations.append(dict(x=X(p["leg_text"]), y=Y(row_y), xref="paper", yref="paper", text=txt,
                                showarrow=False, xanchor="left", yanchor="middle",
                                font=dict(family=FONT, size=15, color="#000000")))
    annotations.append(dict(x=X(p["title_c"][0]), y=Y(p["title_c"][1]), xref="paper", yref="paper",
                            text="<b>" + p["title"].replace("<br>", "</b><br><b>") + "</b>",
                            showarrow=False, xanchor="center", yanchor="middle",
                            font=dict(family=FONT, size=14.3, color="#000000")))
    mkx, mky1, mky2 = p["mk"]
    annotations.append(dict(x=X(mkx), y=Y(mky1), xref="paper", yref="paper", text="●", showarrow=False,
                            xanchor="center", yanchor="middle", font=dict(family=FONT, size=10, color=SIG)))
    annotations.append(dict(x=X(mkx), y=Y(mky2), xref="paper", yref="paper", text="▲", showarrow=False,
                            xanchor="center", yanchor="middle", font=dict(family=FONT, size=10, color=PSIG)))
    annotations.append(dict(x=X(p["mk_text"]), y=Y(mky1 + 2), xref="paper", yref="paper", text="mRNA",
                            showarrow=False, xanchor="left", yanchor="middle",
                            font=dict(family=FONT, size=15, color="#000000")))
    annotations.append(dict(x=X(p["mk_text"]), y=Y(mky2 + 2), xref="paper", yref="paper", text="protein",
                            showarrow=False, xanchor="left", yanchor="middle",
                            font=dict(family=FONT, size=15, color="#000000")))
    annotations.append(dict(x=X(p["xlab"][0]), y=Y(p["xlab"][1]), xref="paper", yref="paper",
                            text="log2(fold change)", showarrow=False, xanchor="center", yanchor="middle",
                            font=dict(family=FONT, size=15, color="#111111")))
    annotations.append(dict(x=X(p["ylab"][0]), y=Y(p["ylab"][1]), xref="paper", yref="paper",
                            text="-log10(p-value)", showarrow=False, xanchor="center", yanchor="middle",
                            textangle=-90, font=dict(family=FONT, size=14.5, color="#111111")))

# last tick label of the Anti-CD3 panel sits on the page edge (partly cut off, as in the original)
annotations.append(dict(x=cd3_xticks[-1], y=Y(1479), xref="x4", yref="paper", text=str(cd3_xticks[-1]),
                        showarrow=False, xanchor="center", yanchor="middle",
                        font=dict(family=FONT, size=15, color="#111111")))

row_pos = [(91, 371), (1090, 377), (91, 1125), (1094, 1108)]
row_sizes = [60, 66, 60, 60]
for txt, (rx, ry), rs in zip(row_labels, row_pos, row_sizes):
    annotations.append(dict(x=X(rx), y=Y(ry), xref="paper", yref="paper", text="<b>" + txt + "</b>",
                            showarrow=False, xanchor="center", yanchor="middle", textangle=-90,
                            font=dict(family="Roboto, Arial, sans-serif", size=rs, color="#000000")))

shapes.append(dict(type="rect", xref="paper", yref="paper", x0=0, x1=1, y0=Y(2.5), y1=1,
                   line=dict(width=0), fillcolor="#70AD47"))
shapes.append(dict(type="line", xref="paper", yref="paper", x0=X(1150), x1=1, y0=Y(33), y1=Y(33),
                   line=dict(color="#ececec", width=1)))
shapes.append(dict(type="line", xref="paper", yref="paper", x0=X(167), x1=X(920), y0=Y(786), y1=Y(786),
                   line=dict(color="#ececec", width=1)))

fig.update_layout(width=W, height=H, autosize=False, margin=dict(l=0, r=0, t=0, b=0),
                  paper_bgcolor="white", plot_bgcolor="white", showlegend=False,
                  shapes=shapes, annotations=annotations, **layout_axes)

fig.write_html("out.html", config={"displayModeBar": False},
               post_script="document.body.style.margin='0px';document.body.style.overflow='hidden';")
